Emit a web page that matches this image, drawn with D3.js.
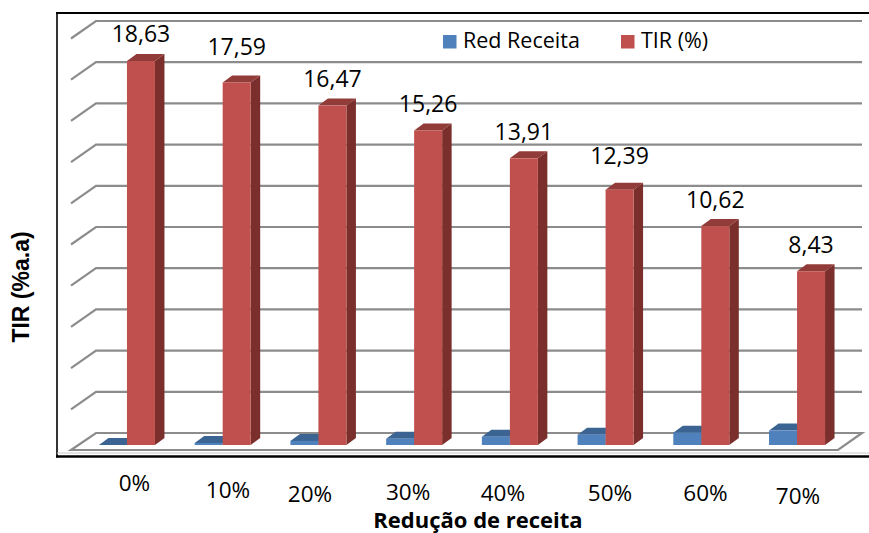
<!DOCTYPE html>
<html>
<head>
<meta charset="utf-8">
<script src="https://cdn.jsdelivr.net/npm/d3@7"></script>
<style>
  html, body { margin: 0; padding: 0; background: #ffffff; }
  svg { display: block; }
</style>
</head>
<body>
<script>
// ---------- data ----------
const categories = ["0%", "10%", "20%", "30%", "40%", "50%", "60%", "70%"];
const redReceita = [0, 0.1, 0.2, 0.3, 0.4, 0.5, 0.6, 0.7];
const tir = [18.63, 17.59, 16.47, 15.26, 13.91, 12.39, 10.62, 8.43];
const gridTicks = [0, 2, 4, 6, 8, 10, 12, 14, 16, 18, 20];
const seriesNames = ["Red Receita", "TIR (%)"];
const yTitle = "TIR (%a.a)";
const xTitle = "Redução de receita";

// ---------- layout / style constants ----------
const W = 869, H = 533;
const colors = {
  blue: { front: "#4F81BD", top: "#3B6493", side: "#2F5077" },
  red:  { front: "#C0504D", top: "#923C3A", side: "#7B2F2D" }
};
const gridColor = "#8c8c8c";
const font = "'Open Sans', 'Liberation Sans', sans-serif";
// Excel label placement quirks (layout only)
const labelLift = [19, 27, 19, 18.5, 18.3, 26, 17.7, 18];
const xLabelDx = [7.5, 5.3, -8.4, -6, -7, 4.4, 4.2, 1];
const xLabelY = [491, 498, 502, 500, 501, 501, 501, 504];

const svg = d3.select("body").append("svg").attr("width", W).attr("height", H);

const fmt = d3.formatLocale({ decimal: ",", thousands: ".", grouping: [3], currency: ["", ""] }).format(".2f");

const x = d3.scaleBand().domain(categories).range([79.1, 844.9]).paddingInner(0).paddingOuter(0);
const cx = c => x(c) + x.bandwidth() / 2;
const yBack = d3.scaleLinear().domain([0, 20]).range([433, 21]);
const yFront = d3.scaleLinear().domain([0, 20]).range([445, 445 - 412.2]);

const wallBackX = 96, wallFrontX = 71, depthDy = 17.5, floorRightBack = 862, floorRightFront = 838;

// ---------- floor ----------
svg.append("path")
  .attr("d", `M${wallFrontX},${yBack(0) + 17} L${wallBackX},${yBack(0)} L${floorRightBack},${yBack(0)} L${floorRightFront},${yBack(0) + 17} Z`)
  .attr("fill", "#ffffff").attr("stroke", gridColor).attr("stroke-width", 2.2).attr("stroke-linejoin", "miter");

// ---------- gridlines (left wall diagonal + back wall) ----------
svg.append("g").selectAll("path")
  .data(gridTicks.filter(t => t > 0))
  .join("path")
  .attr("d", t => `M${wallFrontX},${yBack(t) + depthDy} L${wallBackX},${yBack(t)} L${floorRightBack},${yBack(t)}`)
  .attr("fill", "none").attr("stroke", gridColor).attr("stroke-width", 2.2);

// ---------- bars ----------
const barW = 28, bdx = 9.5, bdy = -7;
function bar(g, x0, v, c) {
  const yT = yFront(v), yB = yFront(0);
  g.append("path")
    .attr("d", `M${x0 + barW},${yT} L${x0 + barW + bdx},${yT + bdy} L${x0 + barW + bdx},${yB + bdy} L${x0 + barW},${yB} Z`)
    .attr("fill", c.side);
  g.append("path")
    .attr("d", `M${x0},${yT} L${x0 + bdx},${yT + bdy} L${x0 + barW + bdx},${yT + bdy} L${x0 + barW},${yT} Z`)
    .attr("fill", c.top);
  if (v > 0) {
    g.append("rect").attr("x", x0).attr("y", yT).attr("width", barW).attr("height", yB - yT).attr("fill", c.front);
  }
}
const barsG = svg.append("g");
categories.forEach((c, i) => {
  const g = barsG.append("g");
  bar(g, cx(c) - barW, redReceita[i], colors.blue);
  bar(g, cx(c), tir[i], colors.red);
});

// ---------- value labels ----------
svg.append("g").selectAll("text")
  .data(categories)
  .join("text")
  .attr("x", c => cx(c) + barW / 2)
  .attr("y", (c, i) => yFront(tir[i]) - labelLift[i])
  .attr("text-anchor", "middle")
  .attr("font-family", font).attr("font-size", 23).attr("fill", "#000")
  .text((c, i) => fmt(tir[i]));

// ---------- plot area border ----------
svg.append("line").attr("x1", 56).attr("x2", W).attr("y1", 13).attr("y2", 13).attr("stroke", "#000").attr("stroke-width", 2);
svg.append("line").attr("x1", 57).attr("x2", 57).attr("y1", 12).attr("y2", 457.5).attr("stroke", "#000").attr("stroke-width", 1.6);
svg.append("line").attr("x1", 57).attr("x2", W).attr("y1", 453).attr("y2", 453).attr("stroke", "#c8c8c8").attr("stroke-width", 1);
svg.append("line").attr("x1", 56).attr("x2", W).attr("y1", 456.5).attr("y2", 456.5).attr("stroke", "#000").attr("stroke-width", 2.4);

// ---------- category labels ----------
svg.append("g").selectAll("text")
  .data(categories)
  .join("text")
  .attr("x", (c, i) => cx(c) + xLabelDx[i])
  .attr("y", (c, i) => xLabelY[i])
  .attr("text-anchor", "middle")
  .attr("font-family", font).attr("font-size", 22.5).attr("fill", "#000")
  .text(c => c);

// ---------- axis titles ----------
svg.append("text")
  .attr("x", 478).attr("y", 528)
  .attr("text-anchor", "middle")
  .attr("font-family", font).attr("font-size", 22).attr("font-weight", "bold")
  .text(xTitle);

svg.append("text")
  .attr("transform", "translate(29,287) rotate(-90)")
  .attr("text-anchor", "middle")
  .attr("font-family", "'Liberation Sans', Arial, sans-serif").attr("font-size", 23).attr("font-weight", "bold")
  .text(yTitle);

// ---------- legend ----------
const legendX = [443, 621];
const legendColors = [colors.blue.front, colors.red.front];
const lg = svg.append("g").selectAll("g").data(seriesNames).join("g");
lg.append("rect").attr("x", (d, i) => legendX[i]).attr("y", 35).attr("width", 13.5).attr("height", 13.5).attr("fill", (d, i) => legendColors[i]);
lg.append("text").attr("x", (d, i) => legendX[i] + 20).attr("y", 48)
  .attr("font-family", font).attr("font-size", 21.5).attr("fill", "#000")
  .text(d => d);
</script>
</body>
</html>
